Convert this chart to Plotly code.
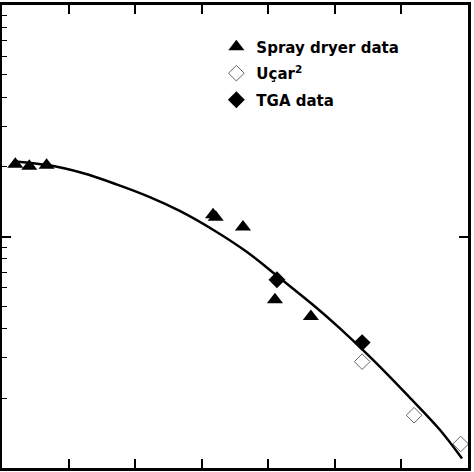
import plotly.graph_objects as go

# spray dryer data (triangles)
spray_x = [0.20, 0.41, 0.67, 3.17, 3.21, 3.62, 4.10, 4.64]
spray_y = [2.05, 2.01, 2.03, 1.24, 1.21, 1.10, 0.533, 0.451]

# Uçar data (open diamonds)
ucar_x = [5.41, 6.19, 6.89]
ucar_y = [0.288, 0.169, 0.127]

# TGA data (filled diamonds)
tga_x = [4.13, 5.41]
tga_y = [0.650, 0.348]

# fitted curve
fit_x = [0.20, 0.71, 1.21, 1.72, 2.22, 2.67, 3.17, 3.68, 4.17, 4.67, 5.08, 5.57, 6.08, 6.58, 6.91]
fit_y = [2.11, 2.03, 1.88, 1.68, 1.48, 1.29, 1.07, 0.857, 0.663, 0.507, 0.400, 0.294, 0.208, 0.146, 0.110]

x_ticks = [1, 2, 3, 4, 5, 6]
y_major = [1]
y_minor = [0.2, 0.3, 0.4, 0.5, 0.6, 0.7, 0.8, 0.9, 2, 3, 4, 5, 6, 7, 8, 9]

fig = go.Figure()

fig.add_trace(go.Scatter(x=fit_x, y=fit_y, mode='lines', showlegend=False,
                         line=dict(color='black', width=2.5, shape='spline', smoothing=1.0)))
fig.add_trace(go.Scatter(x=spray_x, y=spray_y, mode='markers', name='Spray dryer data', legendgroup='a',
                         marker=dict(symbol='triangle-up', size=14, color='black')))
fig.add_trace(go.Scatter(x=ucar_x, y=ucar_y, mode='markers', name='Uçar<sup>2</sup>', legendgroup='b',
                         marker=dict(symbol='diamond-open', size=12, color='#666666', line=dict(width=1))))
fig.add_trace(go.Scatter(x=tga_x, y=tga_y, mode='markers', name='TGA data', legendgroup='c',
                         marker=dict(symbol='diamond', size=13, color='black')))

# right-hand axis only carries the major tick
fig.add_trace(go.Scatter(x=[None], y=[None], yaxis='y2', showlegend=False))

fig.update_layout(
    width=474, height=472,
    margin=dict(l=2, r=6, t=3, b=4),
    plot_bgcolor='white', paper_bgcolor='white',
    font=dict(family='DejaVu Sans', color='black'),
    legend=dict(x=0.46, y=0.945, xanchor='left', yanchor='top', bgcolor='rgba(0,0,0,0)',
                font=dict(size=15, family='DejaVu Sans', color='black', weight='bold'),
                tracegroupgap=4, itemwidth=30),
    xaxis=dict(range=[0, 7], tickvals=x_ticks, showticklabels=False, ticks='inside', ticklen=9,
               tickwidth=2, tickcolor='black', showline=True, linewidth=2.5, linecolor='black',
               mirror='ticks', showgrid=False, zeroline=False),
    yaxis=dict(type='log', range=[-1, 1], tickvals=y_major, showticklabels=False, ticks='inside',
               ticklen=9, tickwidth=1.5, tickcolor='black', showline=True, linewidth=2.5,
               linecolor='black', showgrid=False, zeroline=False,
               minor=dict(tickvals=y_minor, ticks='inside', ticklen=5, tickwidth=1, tickcolor='black',
                          showgrid=False)),
    yaxis2=dict(type='log', range=[-1, 1], overlaying='y', side='right', tickvals=y_major,
                showticklabels=False, ticks='inside', ticklen=9, tickwidth=1.5, tickcolor='black',
                showline=True, linewidth=2.5, linecolor='black', showgrid=False, zeroline=False),
)

fig.write_html("out.html", config={'displayModeBar': False},
               post_script="document.body.style.margin='0';")
